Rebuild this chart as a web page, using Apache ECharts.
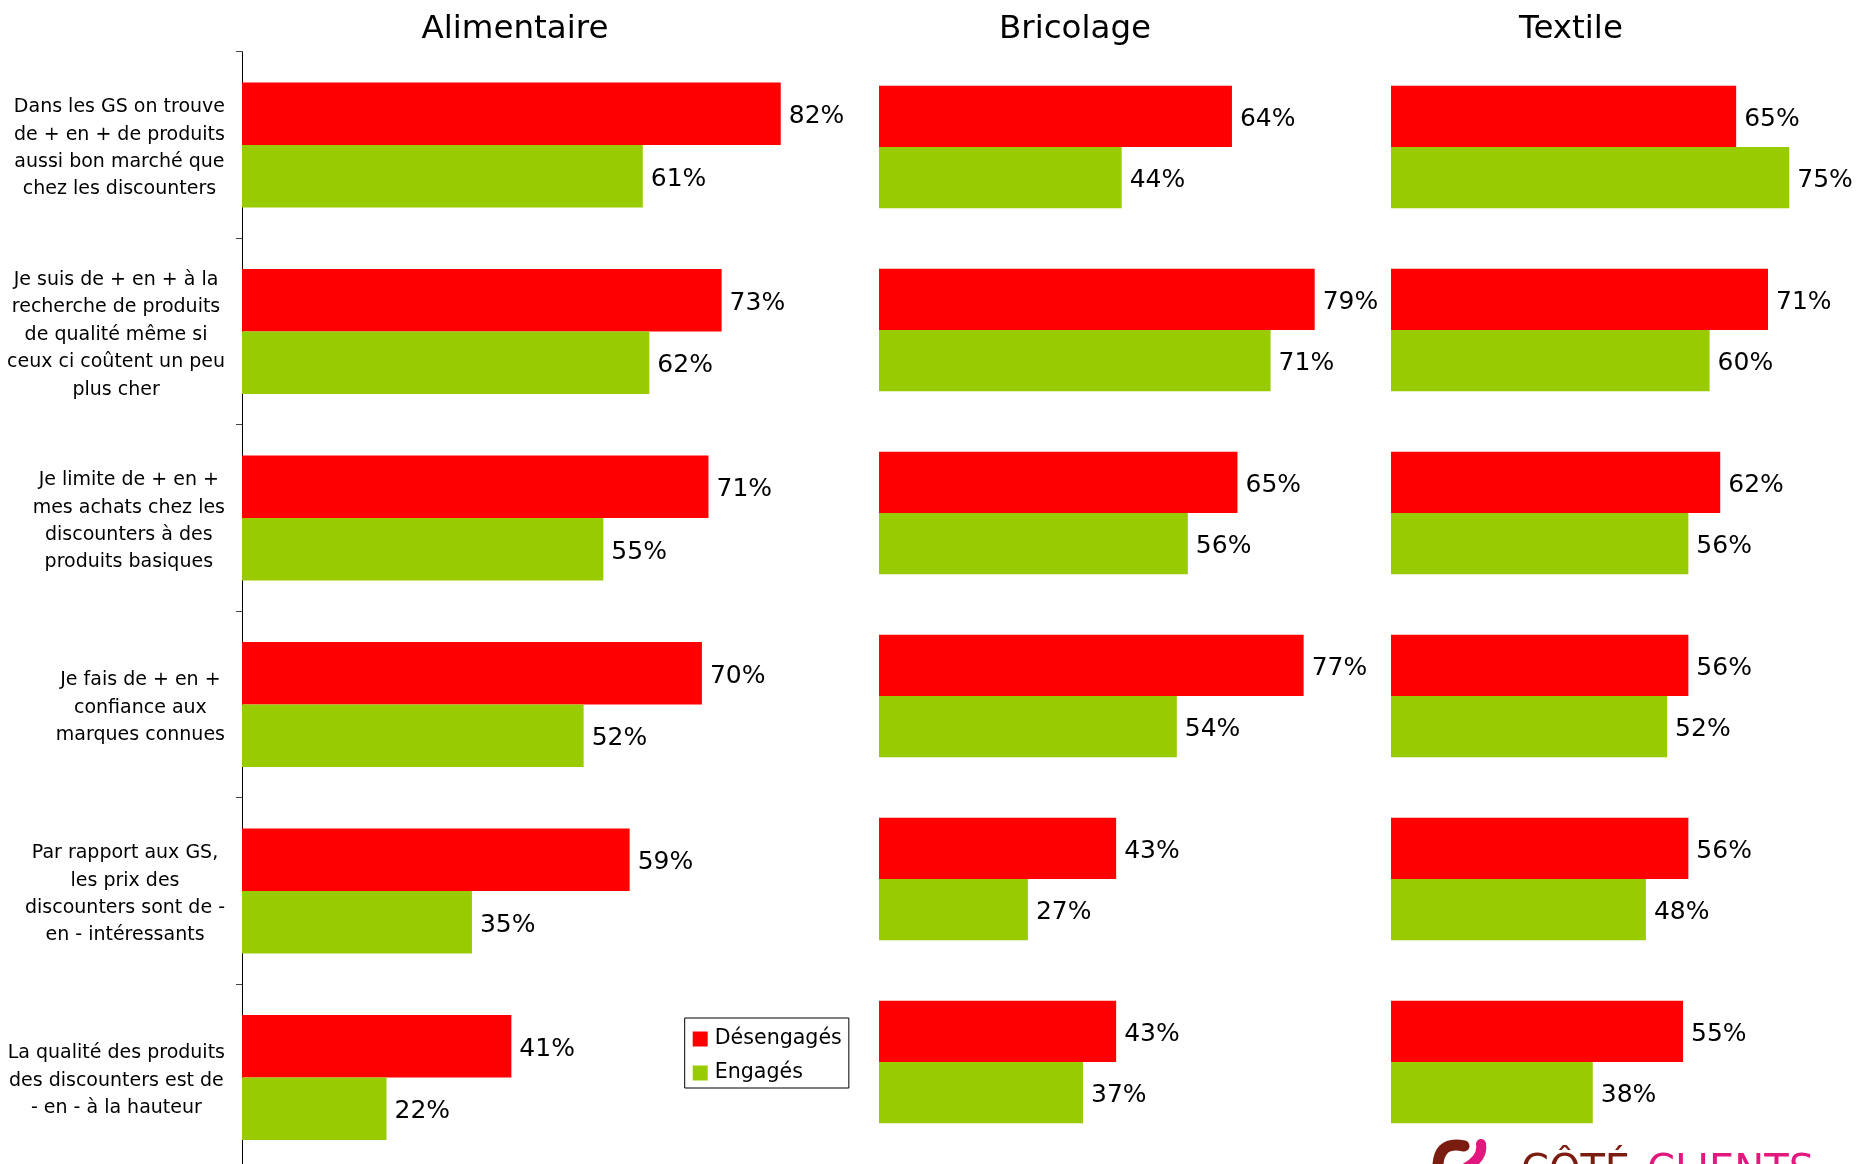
<!DOCTYPE html>
<html>
<head>
<meta charset="utf-8">
<script src="https://cdn.jsdelivr.net/npm/echarts@6/dist/echarts.min.js"></script>
<style>
  html, body { margin: 0; padding: 0; background: #fff; }
  #chart { width: 1866px; height: 1164px; }
</style>
</head>
<body>
<div id="chart"></div>
<script>
// Statements (rows, top to bottom)
const categories = [
  'Dans les GS on trouve\nde + en + de produits\naussi bon marché que\nchez les discounters',
  'Je suis de + en + à la\nrecherche de produits\nde qualité même si\nceux ci coûtent un peu\nplus cher',
  'Je limite de + en +\nmes achats chez les\ndiscounters à des\nproduits basiques',
  'Je fais de + en +\nconfiance aux\nmarques connues',
  'Par rapport aux GS,\nles prix des\ndiscounters sont de -\nen - intéressants',
  'La qualité des produits\ndes discounters est de\n- en - à la hauteur'
];

// Sectors (one panel each)
const sectors = ['Alimentaire', 'Bricolage', 'Textile'];
const seriesNames = ['Désengagés', 'Engagés'];

// Share of agreement, in %
const alimentaireDesengages = [82, 73, 71, 70, 59, 41];
const alimentaireEngages    = [61, 62, 55, 52, 35, 22];
const bricolageDesengages   = [64, 79, 65, 77, 43, 43];
const bricolageEngages      = [44, 71, 56, 54, 27, 37];
const textileDesengages     = [65, 71, 62, 56, 56, 55];
const textileEngages        = [75, 60, 56, 52, 48, 38];

const RED = '#FF0000';
const GREEN = '#99CC00';
const FONT = 'DejaVu Sans';

const panels = [
  { title: sectors[0], titleX: 510, grid: { left: 242, top: 51.7, width: 657, height: 1119 },
    des: alimentaireDesengages, eng: alimentaireEngages, showAxis: true },
  { title: sectors[1], titleX: 1070, grid: { left: 879, top: 55.5, width: 551.5, height: 1098 },
    des: bricolageDesengages, eng: bricolageEngages, showAxis: false },
  { title: sectors[2], titleX: 1566, grid: { left: 1391, top: 55.5, width: 531, height: 1098 },
    des: textileDesengages, eng: textileEngages, showAxis: false }
];

const labelStyle = {
  show: true,
  position: 'right',
  distance: 8,
  offset: [0, 3],
  formatter: '{c}%',
  color: '#000',
  fontFamily: FONT,
  fontSize: 25
};

function categoryLabel(value) {
  return value.split('\n').map(line => '{c|' + line + '}').join('\n');
}

const option = {
  animation: false,
  backgroundColor: '#fff',
  title: panels.map(p => ({
    text: p.title,
    left: p.titleX,
    top: 8,
    textAlign: 'center',
    textStyle: { fontFamily: FONT, fontSize: 32.5, fontWeight: 'normal', color: '#000' }
  })),
  legend: {
    data: seriesNames,
    orient: 'vertical',
    left: 684.7,
    top: 1018,
    padding: [10, 7, 4, 8],
    itemWidth: 15,
    itemHeight: 15,
    itemGap: 12,
    icon: 'rect',
    selectedMode: false,
    borderColor: '#000',
    borderWidth: 1,
    backgroundColor: '#fff',
    textStyle: { fontFamily: FONT, fontSize: 20.6, color: '#000', lineHeight: 22, padding: [0, 0, 0, 2] }
  },
  grid: panels.map(p => Object.assign({ containLabel: false, outerBoundsMode: 'none' }, p.grid)),
  xAxis: panels.map((p, i) => ({
    type: 'value', gridIndex: i, min: 0, max: 100, show: false
  })),
  yAxis: panels.map((p, i) => ({
    type: 'category',
    gridIndex: i,
    data: categories,
    inverse: true,
    show: true,
    axisLine: { show: p.showAxis, lineStyle: { color: '#000', width: 1 } },
    axisTick: { show: p.showAxis, length: 6, lineStyle: { color: '#444' } },
    splitLine: { show: false },
    axisLabel: {
      show: p.showAxis,
      margin: 17,
      formatter: categoryLabel,
      fontFamily: FONT,
      fontSize: 19,
      lineHeight: 27.4,
      padding: [7, 0, 0, 0],
      color: '#000',
      rich: {
        c: { align: 'center', fontFamily: FONT, fontSize: 19, lineHeight: 27.4, color: '#000' }
      }
    }
  })),
  series: panels.flatMap((p, i) => [
    {
      name: seriesNames[0], type: 'bar', xAxisIndex: i, yAxisIndex: i,
      data: p.des, itemStyle: { color: RED },
      barCategoryGap: '33%', barGap: '0%', label: labelStyle
    },
    {
      name: seriesNames[1], type: 'bar', xAxisIndex: i, yAxisIndex: i,
      data: p.eng, itemStyle: { color: GREEN },
      barCategoryGap: '33%', barGap: '0%', label: labelStyle
    }
  ]),
  graphic: [
    { type: 'bezierCurve', silent: true,
      shape: { x1: 1464, y1: 1146, cpx1: 1436, cpy1: 1140, x2: 1438, y2: 1172 },
      style: { stroke: '#7b1c10', lineWidth: 11, lineCap: 'round', fill: null } },
    { type: 'bezierCurve', silent: true,
      shape: { x1: 1481, y1: 1144, cpx1: 1484, cpy1: 1160, x2: 1458, y2: 1172 },
      style: { stroke: '#e2187e', lineWidth: 10, lineCap: 'round', fill: null } },
    { type: 'text', silent: true, x: 1521, y: 1153,
      style: { text: 'CÔTÉ', fill: '#7b1c10', font: '40px "DejaVu Sans"', textVerticalAlign: 'top' } },
    { type: 'text', silent: true, x: 1647, y: 1153,
      style: { text: 'CLIENTS', fill: '#e2187e', font: '40px "DejaVu Sans"', textVerticalAlign: 'top' } }
  ]
};

const chart = echarts.init(document.getElementById('chart'), null, { renderer: 'canvas' });
chart.setOption(option);
</script>
</body>
</html>
